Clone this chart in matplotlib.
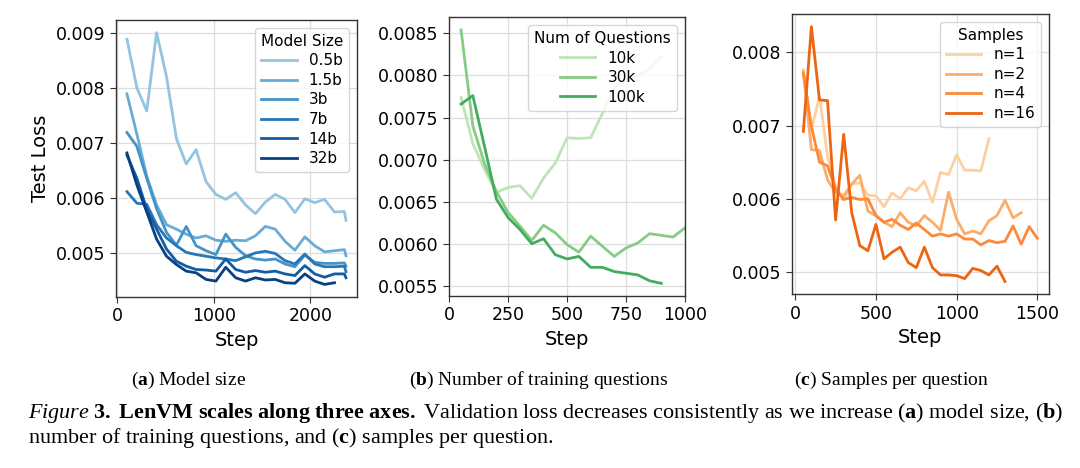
import numpy as np
import matplotlib
matplotlib.use("Agg")
from matplotlib import pyplot as plt
from matplotlib.ticker import MultipleLocator

# ---- data ----
steps_size = [102, 205, 307, 409, 512, 614, 716, 818, 921, 1023, 1125, 1228,
              1330, 1432, 1535, 1637, 1739, 1841, 1944, 2046, 2148, 2251, 2353, 2370]
loss_05b = [0.00888, 0.00800, 0.00758, 0.00900, 0.00820, 0.00708, 0.00662, 0.00688,
            0.00630, 0.00607, 0.00598, 0.00610, 0.00588, 0.00572, 0.00593, 0.00607,
            0.00598, 0.00574, 0.00599, 0.00592, 0.00598, 0.00575, 0.00576, 0.00560]
loss_15b = [0.00789, 0.00716, 0.00640, 0.00588, 0.00552, 0.00544, 0.00535, 0.00528,
            0.00532, 0.00524, 0.00522, 0.00524, 0.00523, 0.00532, 0.00549, 0.00544,
            0.00522, 0.00506, 0.00530, 0.00514, 0.00503, 0.00505, 0.00507, 0.00496]
loss_3b = [0.00719, 0.00694, 0.00636, 0.00581, 0.00538, 0.00515, 0.00549, 0.00514,
           0.00505, 0.00498, 0.00535, 0.00511, 0.00496, 0.00490, 0.00488, 0.00490,
           0.00481, 0.00476, 0.00497, 0.00484, 0.00482, 0.00482, 0.00483, 0.00477]
loss_7b = [0.00612, 0.00591, 0.00589, 0.00552, 0.00528, 0.00514, 0.00502, 0.00498,
           0.00495, 0.00492, 0.00490, 0.00487, 0.00494, 0.00501, 0.00504, 0.00500,
           0.00487, 0.00481, 0.00499, 0.00481, 0.00476, 0.00476, 0.00477, 0.00467]
loss_14b = [0.00678, 0.00636, 0.00580, 0.00544, 0.00508, 0.00486, 0.00477, 0.00471,
            0.00470, 0.00468, 0.00490, 0.00471, 0.00466, 0.00469, 0.00466, 0.00468,
            0.00463, 0.00460, 0.00478, 0.00463, 0.00457, 0.00463, 0.00463, 0.00456]
loss_32b = [0.00682, 0.00624, 0.00575, 0.00526, 0.00495, 0.00480, 0.00468, 0.00465,
            0.00453, 0.00450, 0.00475, 0.00456, 0.00450, 0.00456, 0.00452, 0.00453,
            0.00447, 0.00446, 0.00463, 0.00450, 0.00444, 0.00447]
size_labels = ["0.5b", "1.5b", "3b", "7b", "14b", "32b"]

steps_q = [50, 100, 150, 200, 250, 300, 350, 400, 450, 500, 550, 600, 650, 700,
           750, 800, 850, 900, 950, 1000]
loss_10k = [0.00774, 0.00719, 0.00688, 0.00661, 0.00667, 0.00669, 0.00654, 0.00678,
            0.00696, 0.00726, 0.00725, 0.00726, 0.00755, 0.00786, 0.00794, 0.00799,
            0.00808, 0.00822]
loss_30k = [0.00854, 0.00740, 0.00695, 0.00662, 0.00637, 0.00621, 0.00604, 0.00622,
            0.00613, 0.00599, 0.00590, 0.00609, 0.00597, 0.00585, 0.00595, 0.00601,
            0.00612, 0.00610, 0.00608, 0.00619]
loss_100k = [0.00766, 0.00776, 0.00715, 0.00653, 0.00631, 0.00617, 0.00600, 0.00606,
             0.00587, 0.00582, 0.00585, 0.00572, 0.00572, 0.00567, 0.00565, 0.00563,
             0.00556, 0.00553]
q_labels = ["10k", "30k", "100k"]

steps_n = list(range(50, 1501, 50))
loss_n1 = [0.00776, 0.00694, 0.00740, 0.00658, 0.00617, 0.00599, 0.00620, 0.00622,
           0.00605, 0.00604, 0.00589, 0.00608, 0.00600, 0.00615, 0.00611, 0.00624,
           0.00595, 0.00636, 0.00633, 0.00660, 0.00639, 0.00639, 0.00638, 0.00682]
loss_n2 = [0.00774, 0.00667, 0.00666, 0.00626, 0.00608, 0.00604, 0.00620, 0.00632,
           0.00583, 0.00577, 0.00568, 0.00562, 0.00581, 0.00568, 0.00563, 0.00577,
           0.00568, 0.00557, 0.00609, 0.00572, 0.00552, 0.00556, 0.00552, 0.00570,
           0.00577, 0.00598, 0.00574, 0.00581]
loss_n4 = [0.00771, 0.00699, 0.00650, 0.00645, 0.00613, 0.00599, 0.00602, 0.00599,
           0.00600, 0.00577, 0.00568, 0.00572, 0.00564, 0.00558, 0.00567, 0.00558,
           0.00549, 0.00552, 0.00549, 0.00552, 0.00545, 0.00545, 0.00537, 0.00543,
           0.00540, 0.00542, 0.00563, 0.00538, 0.00562, 0.00546]
loss_n16 = [0.00692, 0.00835, 0.00735, 0.00734, 0.00571, 0.00688, 0.00581, 0.00536,
            0.00529, 0.00565, 0.00518, 0.00527, 0.00534, 0.00513, 0.00506, 0.00534,
            0.00506, 0.00496, 0.00496, 0.00495, 0.00491, 0.00505, 0.00502, 0.00496,
            0.00508, 0.00487]
n_labels = ["n=1", "n=2", "n=4", "n=16"]

sub_captions = ["Model size", "Number of training questions", "Samples per question"]

plt.rcParams["font.family"] = "DejaVu Sans"
plt.rcParams["mathtext.fontset"] = "custom"
plt.rcParams["mathtext.rm"] = "Liberation Serif"
plt.rcParams["mathtext.it"] = "Liberation Serif:italic"
plt.rcParams["mathtext.bf"] = "Liberation Serif:bold"

fig = plt.figure(figsize=(10.8, 4.68), dpi=100)
ax_a = fig.add_axes([0.1074, 0.3654, 0.2231, 0.5919])
ax_b = fig.add_axes([0.4160, 0.3675, 0.2182, 0.5955])
ax_c = fig.add_axes([0.7330, 0.3712, 0.2383, 0.5990])

blues = plt.cm.Blues(np.linspace(0.4, 0.94, 6))
greens = plt.cm.Greens(np.linspace(0.28, 0.62, 3))
oranges = plt.cm.Oranges(np.linspace(0.25, 0.64, 4))

lw = 2.0
for lab, ys, col in zip(size_labels, [loss_05b, loss_15b, loss_3b, loss_7b, loss_14b, loss_32b], blues):
    ax_a.plot(steps_size[:len(ys)], ys, color=col, lw=lw, label=lab)
for lab, ys, col in zip(q_labels, [loss_10k, loss_30k, loss_100k], greens):
    ax_b.plot(steps_q[:len(ys)], ys, color=col, lw=lw, label=lab)
for lab, ys, col in zip(n_labels, [loss_n1, loss_n2, loss_n4, loss_n16], oranges):
    ax_c.plot(steps_n[:len(ys)], ys, color=col, lw=lw, label=lab)

ax_b.set_xlim(0, 1000)
ax_b.set_xticks([0, 250, 500, 750, 1000])
ax_a.yaxis.set_major_locator(MultipleLocator(0.001))
ax_c.yaxis.set_major_locator(MultipleLocator(0.001))

for ax, title in zip([ax_a, ax_b, ax_c], ["Model Size", "Num of Questions", "Samples"]):
    ax.grid(True, color="#dddddd", lw=0.9)
    ax.set_axisbelow(True)
    ax.tick_params(labelsize=12.5, length=4, color="#333333")
    for sp in ax.spines.values():
        sp.set_color("#333333")
        sp.set_linewidth(1.0)
    ax.set_xlabel("Step", fontsize=14)
    leg = ax.legend(title=title, loc="upper right", fontsize=11, title_fontsize=11,
                    handlelength=2.3, borderpad=0.4, labelspacing=0.3)
    leg.get_frame().set_edgecolor("#cccccc")

ax_a.set_ylabel("Test Loss", fontsize=14)

# ---- captions ----
cap_font = "Liberation Serif"
for x, letter, text in zip([189, 539, 892], "abc", sub_captions):
    fig.text(x / 1080, 1 - 380 / 468, r"($\mathbf{%s}$) %s" % (letter, text),
             ha="center", va="center", fontsize=14, family=cap_font)

line1 = (r"$\mathit{Figure}$ $\mathbf{3.\ LenVM\ scales\ along\ three\ axes.}$ "
         r"Validation loss decreases consistently as we increase ($\mathbf{a}$) model size, ($\mathbf{b}$)")
line2 = r"number of training questions, and ($\mathbf{c}$) samples per question."
fig.text(28 / 1080, 1 - 413 / 468, line1, ha="left", va="center", fontsize=15.9, family=cap_font)
fig.text(28 / 1080, 1 - 438 / 468, line2, ha="left", va="center", fontsize=15.9, family=cap_font)

fig.savefig("out.png", dpi=100, facecolor="white")
